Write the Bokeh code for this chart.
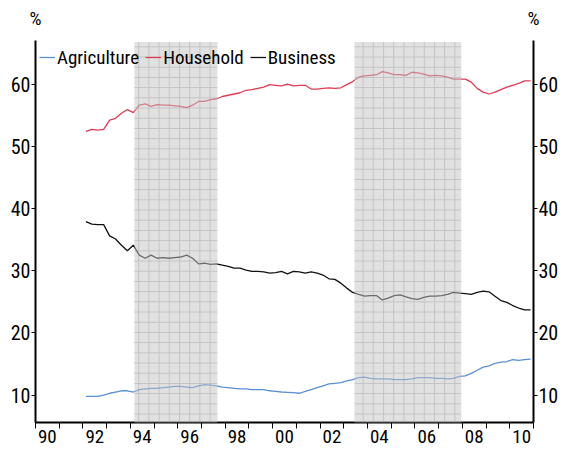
import pandas as pd
from bokeh.plotting import figure
from bokeh.models import Range1d, LinearAxis, FixedTicker, Legend, LegendItem, ColumnDataSource
from bokeh.embed import file_html
from bokeh.resources import INLINE

FONT = "Roboto Condensed, Arial Narrow, sans-serif"

# quarterly shares, %, 1992Q1 .. 2010Q4
first_quarter = "1992Q1"
last_quarter = "2010Q4"

agriculture = [
    9.8, 9.8, 9.8, 10.0, 10.3, 10.5, 10.7, 10.7, 10.5, 10.9,
    11.0, 11.1, 11.1, 11.2, 11.3, 11.4, 11.4, 11.3, 11.2, 11.5,
    11.7, 11.6, 11.5, 11.3, 11.2, 11.1, 11.0, 11.0, 10.9, 10.9,
    10.9, 10.7, 10.6, 10.5, 10.45, 10.4, 10.3, 10.6, 10.9, 11.2,
    11.5, 11.8, 11.9, 12.0, 12.3, 12.5, 12.8, 12.9, 12.7, 12.6,
    12.6, 12.6, 12.5, 12.5, 12.5, 12.6, 12.8, 12.8, 12.8, 12.7,
    12.7, 12.6, 12.7, 13.0, 13.1, 13.5, 14.0, 14.5, 14.7, 15.1,
    15.3, 15.4, 15.7, 15.6, 15.7, 15.8,
]
household = [
    52.4, 52.7, 52.6, 52.7, 54.2, 54.5, 55.3, 55.9, 55.4, 56.6,
    56.8, 56.4, 56.7, 56.6, 56.6, 56.5, 56.4, 56.2, 56.6, 57.2,
    57.2, 57.5, 57.6, 58.0, 58.2, 58.4, 58.6, 59.0, 59.1, 59.3,
    59.5, 59.9, 59.8, 59.7, 60.0, 59.7, 59.8, 59.8, 59.2, 59.2,
    59.3, 59.4, 59.3, 59.4, 59.9, 60.4, 61.1, 61.3, 61.4, 61.5,
    62.0, 61.8, 61.5, 61.5, 61.4, 61.9, 61.8, 61.6, 61.3, 61.4,
    61.3, 61.1, 60.8, 60.8, 60.8, 60.3, 59.3, 58.7, 58.4, 58.7,
    59.1, 59.5, 59.8, 60.1, 60.5, 60.5,
]
business = [
    37.9, 37.5, 37.4, 37.4, 35.6, 35.1, 34.1, 33.2, 34.1, 32.5,
    32.0, 32.5, 32.0, 32.1, 32.0, 32.1, 32.2, 32.5, 32.0, 31.1,
    31.2, 31.0, 31.1, 30.9, 30.7, 30.4, 30.4, 30.1, 29.9, 29.9,
    29.8, 29.6, 29.7, 29.9, 29.5, 29.9, 29.8, 29.6, 29.8, 29.6,
    29.3, 28.7, 28.6, 28.0, 27.2, 26.5, 26.2, 25.9, 26.0, 26.0,
    25.3, 25.6, 26.0, 26.1, 25.8, 25.5, 25.4, 25.7, 25.9, 25.9,
    26.0, 26.2, 26.5, 26.4, 26.3, 26.2, 26.5, 26.7, 26.6, 25.9,
    25.2, 24.9, 24.4, 24.0, 23.7, 23.7,
]

# shaded periods (decimal years)
shade_start = [1994.17, 2003.45]
shade_end = [1997.67, 2007.95]
shade_top = 66.75

year_ticks = list(range(1990, 2012))
label_years = [1990, 1992, 1994, 1996, 1998, 2000, 2002, 2004, 2006, 2008, 2010]
label_texts = ["90", "92", "94", "96", "98", "00", "02", "04", "06", "08", "10"]
y_ticks = [10, 20, 30, 40, 50, 60]
unit_label = "%"

x_start, x_end = 1990, 2011
y_start, y_end = 5.6, 67.0

quarters = pd.period_range(first_quarter, last_quarter, freq="Q")
t = [q.year + (q.quarter - 1) / 4 + 0.125 for q in quarters]

src = ColumnDataSource(dict(t=t, agri=agriculture, hh=household, bus=business))

p = figure(width=562, height=449, output_backend="svg", toolbar_location=None,
           x_range=Range1d(x_start, x_end), y_range=Range1d(y_start, y_end),
           x_axis_location=None, y_axis_location=None,
           min_border_left=35, min_border_right=29, min_border_top=40, min_border_bottom=27)
p.outline_line_color = None
p.xgrid.visible = False
p.ygrid.visible = False
p.background_fill_color = "white"
p.border_fill_color = "white"


def style_y(ax):
    ax.ticker = FixedTicker(ticks=y_ticks)
    ax.axis_line_width = 2
    ax.axis_line_color = "black"
    ax.major_tick_out = 4
    ax.major_tick_in = 0
    ax.major_tick_line_color = "black"
    ax.minor_tick_line_color = None
    ax.major_label_standoff = 1
    ax.major_label_text_font = FONT
    ax.major_label_text_font_size = "20px"
    ax.major_label_text_color = "black"


yl = LinearAxis()
style_y(yl)
p.add_layout(yl, "left")
yr = LinearAxis()
style_y(yr)
p.add_layout(yr, "right")

xb = LinearAxis()
xb.ticker = FixedTicker(ticks=[y + 0.5 for y in label_years], minor_ticks=year_ticks)
xb.major_label_overrides = {y + 0.5: s for y, s in zip(label_years, label_texts)}
xb.axis_line_width = 2
xb.axis_line_color = "black"
xb.major_tick_line_color = None
xb.major_tick_out = 0
xb.major_tick_in = 0
xb.minor_tick_line_color = "black"
xb.minor_tick_out = 6
xb.minor_tick_in = 0
xb.major_label_standoff = 1
xb.major_label_text_font = FONT
xb.major_label_text_font_size = "19px"
xb.major_label_text_color = "black"
p.add_layout(xb, "below")

# unit labels above both vertical axes
xt = LinearAxis()
xt.ticker = FixedTicker(ticks=[x_start, x_end], minor_ticks=[])
xt.major_label_overrides = {x_start: unit_label, x_end: unit_label}
xt.axis_line_color = None
xt.major_tick_line_color = None
xt.minor_tick_line_color = None
xt.major_tick_out = 0
xt.major_tick_in = 0
xt.major_label_standoff = 11
xt.major_label_text_font = FONT
xt.major_label_text_font_size = "19px"
xt.major_label_text_color = "black"
p.add_layout(xt, "above")

r_agri = p.line("t", "agri", source=src, line_color="#5b8fd3", line_width=1.3)
r_hh = p.line("t", "hh", source=src, line_color="#e03a55", line_width=1.3)
r_bus = p.line("t", "bus", source=src, line_color="#111111", line_width=1.3)

legend = Legend(items=[LegendItem(label="Agriculture", renderers=[r_agri]),
                       LegendItem(label="Household", renderers=[r_hh]),
                       LegendItem(label="Business", renderers=[r_bus])],
                orientation="horizontal", location="top_left",
                margin=4, padding=5, spacing=6,
                glyph_width=16, glyph_height=26, label_height=26, label_standoff=2,
                label_text_font=FONT, label_text_font_size="19px", label_text_color="black",
                background_fill_alpha=0, border_line_color=None)
p.add_layout(legend, "center")

shade = ColumnDataSource(dict(left=shade_start, right=shade_end,
                              top=[shade_top] * len(shade_start), bottom=[y_start] * len(shade_start)))
p.quad(left="left", right="right", top="top", bottom="bottom", source=shade,
       fill_color="#c4c4c4", fill_alpha=0.5, line_color=None,
       hatch_pattern="+", hatch_color="#8a8a8a", hatch_alpha=0.35, hatch_scale=10.2, hatch_weight=1,
       level="overlay")

open("out.html", "w").write(file_html(p, INLINE))
